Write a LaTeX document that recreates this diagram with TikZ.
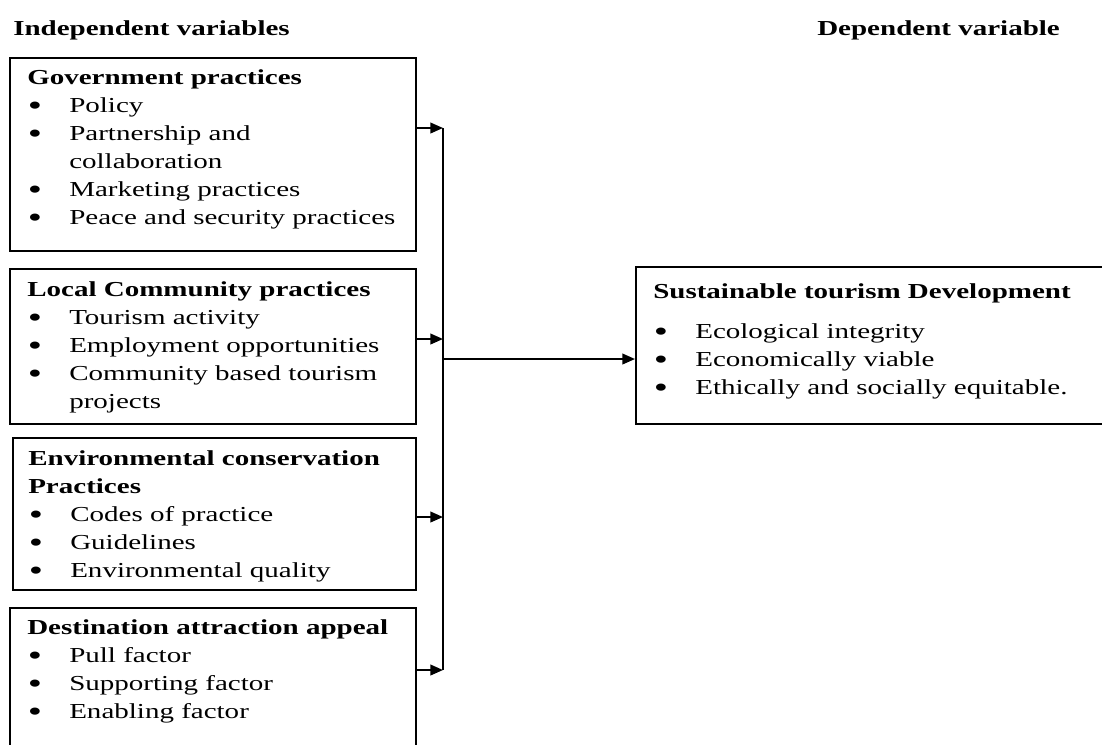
\documentclass[tikz,border=0pt]{standalone}
\usepackage{fontspec}
\setmainfont[FakeStretch=1.36]{Liberation Serif}
\usetikzlibrary{arrows.meta,positioning}

% bullet item and continuation line
\newcommand{\itm}[1]{\makebox[31.5pt][l]{\hspace*{0.5pt}\raisebox{-2.4pt}{\scalebox{1.4}{\textbullet}}}#1}
\newcommand{\cont}[1]{\hspace*{31.5pt}#1}

\begin{document}
\begin{tikzpicture}[
    x=0.75pt, y=-0.75pt,
    varbox/.style={rectangle, draw, line width=1.4pt, anchor=north west, inner sep=0pt, minimum width=304.5pt},
    listtext/.style={anchor=north west, inner sep=0pt, align=left, font=\fontsize{16}{21}\selectfont},
    heading/.style={anchor=base west, inner sep=0pt, font=\fontsize{16}{21}\selectfont\bfseries},
    arrow/.style={-{Triangle[length=9.5pt,width=8pt]}, line width=1.4pt}
]
\useasboundingbox (0,0) rectangle (1102,744);
\clip (0,0) rectangle (1102,744);

% column headings
\node[heading] (indep) at (13,35) {Independent variables};
\node[heading] (dep) at (817,35) {Dependent variable};

% independent variable boxes
\node[varbox, minimum height=144.75pt] (gov) at (9,57) {};
\node[listtext] (govtxt) at (27,69) {\textbf{Government practices}\\
  \itm{Policy}\\
  \itm{Partnership and}\\
  \cont{collaboration}\\
  \itm{Marketing practices}\\
  \itm{Peace and security practices}};

\node[varbox, minimum height=116.25pt] (local) at (9,268) {};
\node[listtext] (localtxt) at (27,281) {\textbf{Local Community practices}\\
  \itm{Tourism activity}\\
  \itm{Employment opportunities}\\
  \itm{Community based tourism}\\
  \cont{projects}};

\node[varbox, minimum width=302.25pt, minimum height=114pt] (env) at (12,437) {};
\node[listtext] (envtxt) at (28,450) {\textbf{Environmental conservation}\\
  \textbf{Practices}\\
  \itm{Codes of practice}\\
  \itm{Guidelines}\\
  \itm{Environmental quality}};

\node[varbox, minimum height=112pt] (dest) at (9,607) {};
\node[listtext] (desttxt) at (27,619) {\textbf{Destination attraction appeal}\\
  \itm{Pull factor}\\
  \itm{Supporting factor}\\
  \itm{Enabling factor}};

% dependent variable box
\node[varbox, minimum width=360pt, minimum height=117.75pt] (sustain) at (635,266) {};
\node[listtext] (sustaintxt) at (653,283) {\textbf{Sustainable tourism Development}\\[9pt]
  \itm{Ecological integrity}\\
  \itm{Economically viable}\\
  \itm{Ethically and socially equitable.}};

% collecting line
\coordinate (b1) at (443,128);
\coordinate (b2) at (443,339);
\coordinate (b3) at (443,517);
\coordinate (b4) at (443,670);
\coordinate (bout) at (443,359);
\draw[line width=1.4pt] (b1) -- (b4);

% arrows
\draw[arrow] (gov.east |- b1) -- (b1);
\draw[arrow] (local.east |- b2) -- (b2);
\draw[arrow] (env.east |- b3) -- (b3);
\draw[arrow] (dest.east |- b4) -- (b4);
\draw[arrow] (bout) -- (bout -| sustain.west);

\end{tikzpicture}
\end{document}
